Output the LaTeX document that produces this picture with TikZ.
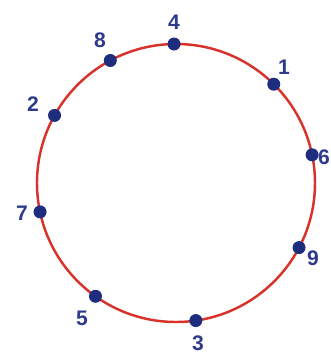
\documentclass[tikz,border=0pt]{standalone}
\usepackage{fontspec}
\setsansfont{Liberation Sans}
\usepackage{xcolor}
\usetikzlibrary{positioning, calc}
\definecolor{cRing}{HTML}{D8322B}
\definecolor{cDot}{HTML}{1E2D7D}
\definecolor{cNum}{HTML}{2E3B8C}
\tikzset{
  ring/.style={
    draw=cRing, line width=1.4pt
  },
  dot/.style={
    circle, fill=cDot, inner sep=0pt, minimum size=0.26cm
  },
  num/.style={
    font=\sffamily\bfseries\fontsize{12}{12}\selectfont,
    text=cNum, inner sep=0pt
  }
}
\begin{document}
\begin{tikzpicture}

%% ── Frame ────────────────────────────────────────────────────────
\useasboundingbox (0,0) rectangle (6.62,7.06);

\begin{scope}[shift={(3.52,3.40)}]

%% ── Ring ─────────────────────────────────────────────────────────
\node[ring, circle, minimum size=5.56cm, inner sep=0pt] (ring) at (0,0) {};

%% ── Dots ─────────────────────────────────────────────────────────
\node[dot] (p4) at (90.8:2.78) {};
\node[dot] (p8) at (118.2:2.78) {};
\node[dot] (p1) at (45.3:2.78) {};
\node[dot] (p2) at (150.9:2.78) {};
\node[dot] (p6) at (11.7:2.78) {};
\node[dot] (p7) at (192:2.78) {};
\node[dot] (p9) at (332.3:2.78) {};
\node[dot] (p5) at (234.6:2.78) {};
\node[dot] (p3) at (278.2:2.78) {};

%% ── Labels ───────────────────────────────────────────────────────
\node[num] (l4) at (-0.04,3.22) {4};
\node[num] (l8) at (-1.52,2.86) {8};
\node[num] (l1) at (2.16,2.32) {1};
\node[num] (l2) at (-2.86,1.58) {2};
\node[num] (l6) at (2.96,0.52) {6};
\node[num] (l7) at (-3.08,-0.60) {7};
\node[num] (l9) at (2.74,-1.50) {9};
\node[num] (l5) at (-1.88,-2.70) {5};
\node[num] (l3) at (0.44,-3.20) {3};

\end{scope}

\end{tikzpicture}
\end{document}
